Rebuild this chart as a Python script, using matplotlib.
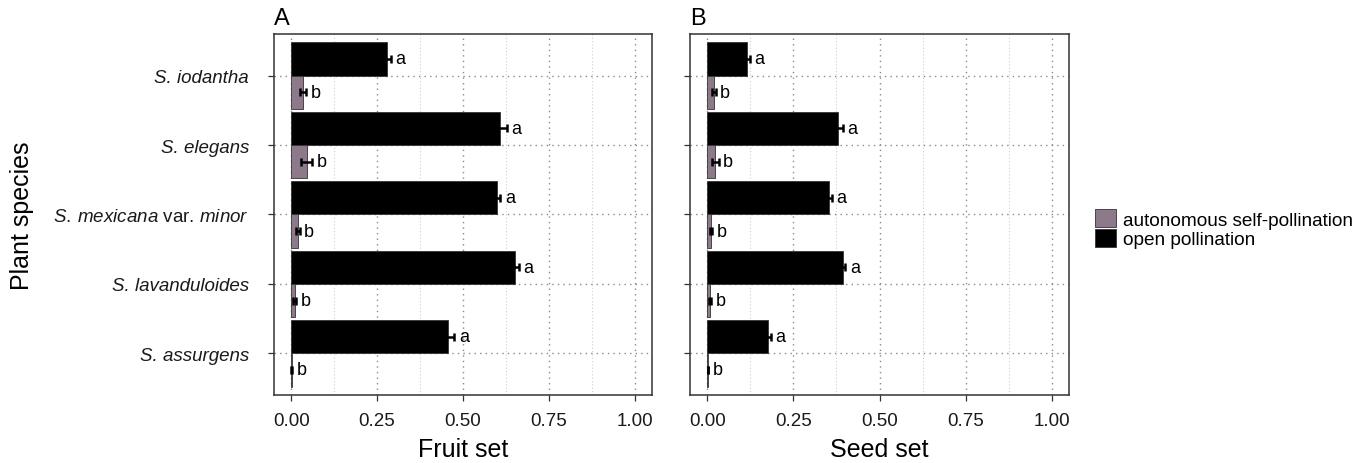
import numpy as np
import matplotlib
matplotlib.use("Agg")
import matplotlib.pyplot as plt
from matplotlib.patches import Patch

plt.rcParams['font.family'] = ['Liberation Sans', 'DejaVu Sans']
plt.rcParams['mathtext.fontset'] = 'custom'
plt.rcParams['mathtext.rm'] = 'Liberation Sans'
plt.rcParams['mathtext.it'] = 'Liberation Sans:italic'

# species, top to bottom
species = ['S. iodantha', 'S. elegans',
           r'$\it{S.\:mexicana}$ var. $\it{minor}$',
           'S. lavanduloides', 'S. assurgens']

# fruit set
fruit_open = [0.278, 0.607, 0.599, 0.652, 0.457]
fruit_open_err = [0.012, 0.020, 0.010, 0.010, 0.018]
fruit_auto = [0.035, 0.045, 0.020, 0.010, 0.002]
fruit_auto_err = [0.008, 0.016, 0.005, 0.004, 0.001]

# seed set
seed_open = [0.115, 0.379, 0.353, 0.393, 0.175]
seed_open_err = [0.008, 0.015, 0.008, 0.008, 0.009]
seed_auto = [0.019, 0.023, 0.011, 0.009, 0.002]
seed_auto_err = [0.005, 0.010, 0.004, 0.003, 0.001]

letters_open = ['a', 'a', 'a', 'a', 'a']
letters_auto = ['b', 'b', 'b', 'b', 'b']

auto_color = '#8c7a8b'
open_color = '#000000'

fig = plt.figure(figsize=(13.67, 4.64), dpi=100)
axA = fig.add_axes([0.2004, 0.1466, 0.2765, 0.778])
axB = fig.add_axes([0.5048, 0.1466, 0.2772, 0.778])

ypos = np.arange(len(species))[::-1] + 1.0
h = 0.48


def draw(ax, op, op_err, au, au_err, xlabel, tag):
    ax.barh(ypos + h / 2, op, height=h, color=open_color, edgecolor='#333333', linewidth=0.6, zorder=3)
    ax.barh(ypos - h / 2, au, height=h, color=auto_color, edgecolor='#333333', linewidth=0.6, zorder=3)
    ax.errorbar(op, ypos + h / 2, xerr=op_err, fmt='none', ecolor='black', elinewidth=1.8, capsize=3, capthick=1.8, zorder=4)
    ax.errorbar(au, ypos - h / 2, xerr=au_err, fmt='none', ecolor='black', elinewidth=1.8, capsize=3, capthick=1.8, zorder=4)
    for i in range(len(ypos)):
        ax.text(op[i] + op_err[i] + 0.013, ypos[i] + h / 2, letters_open[i], va='center', ha='left', fontsize=13, zorder=5)
        ax.text(au[i] + au_err[i] + 0.013, ypos[i] - h / 2, letters_auto[i], va='center', ha='left', fontsize=13, zorder=5)

    ax.set_xlim(-0.05, 1.05)
    ax.set_ylim(0.4, 5.6)
    ax.set_xticks([0, 0.25, 0.5, 0.75, 1.0])
    ax.set_xticklabels(['0.00', '0.25', '0.50', '0.75', '1.00'])
    ax.set_xticks([0.125, 0.375, 0.625, 0.875], minor=True)
    ax.set_yticks(ypos)
    ax.grid(True, which='major', axis='both', linestyle=(0, (1, 3)), color='#8a8a8a', linewidth=1.0, zorder=0)
    ax.grid(True, which='minor', axis='x', linestyle=(0, (1, 2)), color='#d0d0d0', linewidth=0.8, zorder=0)
    ax.tick_params(axis='both', which='major', length=4, width=0.9, color='#333333', labelsize=13.5, labelcolor='#1a1a1a')
    ax.tick_params(axis='x', which='major', pad=8)
    ax.tick_params(axis='y', which='major', pad=14)
    ax.tick_params(axis='x', which='minor', length=0)
    for s in ax.spines.values():
        s.set_color('#333333')
        s.set_linewidth(1.1)
    ax.set_xlabel(xlabel, fontsize=18, labelpad=6)
    ax.text(0.0, 1.015, tag, transform=ax.transAxes, fontsize=17, ha='left', va='bottom')


draw(axA, fruit_open, fruit_open_err, fruit_auto, fruit_auto_err, 'Fruit set', 'A')
draw(axB, seed_open, seed_open_err, seed_auto, seed_auto_err, 'Seed set', 'B')

axA.set_yticklabels(species, fontsize=13.5)
for lab in axA.get_yticklabels():
    if '$' not in lab.get_text():
        lab.set_fontstyle('italic')
axB.set_yticklabels([])

fig.text(0.016, 0.536, 'Plant species', rotation=90, fontsize=18, ha='center', va='center')

handles = [Patch(facecolor=auto_color, edgecolor='#333333', linewidth=0.6),
           Patch(facecolor=open_color, edgecolor='#333333', linewidth=0.6)]
fig.legend(handles, ['autonomous self-pollination', 'open pollination'],
           loc='center left', bbox_to_anchor=(0.791, 0.505), frameon=False,
           fontsize=13.7, handlelength=1.15, handleheight=1.1, handletextpad=0.35,
           labelspacing=0.0, borderpad=0.2)

fig.savefig('out.png', dpi=100)
